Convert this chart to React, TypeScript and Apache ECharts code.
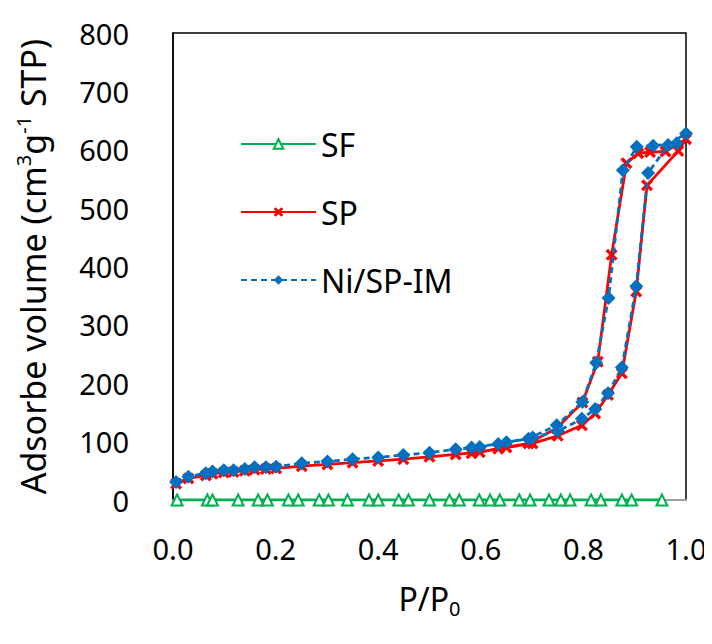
import React, { useEffect, useRef } from "react";
import * as echarts from "echarts";

// SF (green, triangles)
const sfP = [0.008, 0.067, 0.077, 0.127, 0.166, 0.184, 0.225, 0.244, 0.285, 0.303, 0.34, 0.382, 0.4, 0.44, 0.459, 0.5, 0.539, 0.558, 0.597, 0.618, 0.637, 0.675, 0.696, 0.733, 0.756, 0.774, 0.815, 0.834, 0.875, 0.894, 0.953];
const sfV = [0, 0, 0, 0, 0, 0, 0, 0, 0, 0, 0, 0, 0, 0, 0, 0, 0, 0, 0, 0, 0, 0, 0, 0, 0, 0, 0, 0, 0, 0, 0];

// SP (red, crosses): adsorption then desorption
const spP = [0.006, 0.03, 0.064, 0.077, 0.099, 0.118, 0.14, 0.159, 0.181, 0.201, 0.251, 0.301, 0.35, 0.4, 0.449, 0.5, 0.551, 0.598, 0.65, 0.701, 0.75, 0.797, 0.823, 0.848, 0.875, 0.903, 0.924, 0.985, 1.0,
  0.96, 0.93, 0.907, 0.884, 0.855, 0.828, 0.798, 0.748, 0.693, 0.634, 0.582];
const spV = [28, 37, 42, 45, 47, 48, 50, 52, 53, 54, 58, 61, 64, 67, 70, 74, 78, 82, 90, 97, 110, 128, 148, 180, 217, 357, 539, 598, 618,
  597, 596, 594, 577, 420, 237, 167, 123, 97, 88, 80];

// Ni/SP-IM (blue, diamonds): adsorption then desorption
const niP = [0.006, 0.03, 0.064, 0.077, 0.099, 0.118, 0.14, 0.159, 0.181, 0.201, 0.251, 0.301, 0.35, 0.4, 0.449, 0.5, 0.551, 0.598, 0.65, 0.701, 0.75, 0.797, 0.823, 0.848, 0.875, 0.903, 0.926, 0.965, 1.0,
  0.982, 0.936, 0.904, 0.877, 0.849, 0.825, 0.798, 0.748, 0.693, 0.634, 0.582];
const niV = [31, 40, 46, 49, 51, 51, 53, 56, 56, 57, 63, 66, 70, 73, 77, 81, 87, 91, 99, 107, 118, 139, 156, 183, 227, 366, 560, 608, 628,
  611, 607, 605, 565, 346, 235, 168, 128, 105, 96, 90];

const pairs = (p: number[], v: number[]) => p.map((x, i) => [x, v[i]]);

const crossPath = "path://M2,0 L5,3 L8,0 L10,2 L7,5 L10,8 L8,10 L5,7 L2,10 L0,8 L3,5 L0,2 Z";

export default function App() {
  const ref = useRef<HTMLDivElement>(null);
  useEffect(() => {
    if (!ref.current) return;
    const chart = echarts.init(ref.current, null, { renderer: "svg" });
    const font = "Noto Sans";
    chart.setOption({
      animation: false,
      backgroundColor: "#fff",
      textStyle: { fontFamily: font, color: "#000" },
      grid: {
        left: 165,
        right: 26,
        top: 25,
        bottom: 144,
        show: true,
        borderColor: "#000",
        borderWidth: 1.5,
        containLabel: false,
        outerBoundsMode: "none",
      },
      legend: {
        orient: "vertical",
        left: 227,
        top: 113,
        itemWidth: 75,
        itemHeight: 12,
        itemGap: 32,
        textStyle: { fontSize: 32, color: "#000", fontFamily: font, lineHeight: 36 },
        data: ["SF", "SP", "Ni/SP-IM"],
      },
      xAxis: {
        type: "value",
        min: 0,
        max: 1,
        interval: 0.2,
        name: "{p|P/P}{sub|0}",
        nameLocation: "middle",
        nameGap: 78,
        nameTextStyle: {
          color: "#000",
          fontFamily: font,
          rich: {
            p: { fontSize: 32, lineHeight: 40, verticalAlign: "middle", fontFamily: font, color: "#000" },
            sub: { fontSize: 20, verticalAlign: "bottom", lineHeight: 20, fontFamily: font, color: "#000" },
          },
        },
        axisLine: { show: true, lineStyle: { color: "#a0a0a0", width: 2 } },
        axisTick: { show: false },
        splitLine: { show: false },
        axisLabel: {
          fontSize: 29,
          color: "#000",
          margin: 34,
          formatter: (v: number) => v.toFixed(1),
        },
      },
      yAxis: {
        type: "value",
        min: 0,
        max: 800,
        interval: 100,
        name: "Adsorbe volume (cm{sup|3}g{sup|-1} STP)",
        nameLocation: "middle",
        nameGap: 120,
        nameRotate: 90,
        nameTextStyle: {
          fontSize: 34,
          color: "#000",
          fontFamily: font,
          lineHeight: 40,
          rich: { sup: { fontSize: 20, verticalAlign: "top", lineHeight: 22, fontFamily: font, color: "#000" } },
        },
        axisLine: { show: true, lineStyle: { color: "#000", width: 1.5 } },
        axisTick: { show: false },
        splitLine: { show: false },
        axisLabel: { fontSize: 29, color: "#000", margin: 44 },
      },
      series: [
        {
          name: "SF",
          type: "line",
          data: pairs(sfP, sfV),
          symbol: "triangle",
          symbolSize: 11,
          lineStyle: { color: "#00B050", width: 2.8 },
          itemStyle: { color: "#fff", borderColor: "#00B050", borderWidth: 2 },
          color: "#00B050",
          z: 3,
        },
        {
          name: "SP",
          type: "line",
          data: pairs(spP, spV),
          symbol: crossPath,
          symbolSize: 12,
          lineStyle: { color: "#FF0000", width: 2.8 },
          itemStyle: { color: "#FF0000" },
          color: "#FF0000",
          z: 4,
        },
        {
          name: "Ni/SP-IM",
          type: "line",
          data: pairs(niP, niV),
          symbol: "diamond",
          symbolSize: 14,
          lineStyle: { color: "#0070C0", width: 2.8, type: [6, 4] },
          itemStyle: { color: "#0070C0" },
          color: "#0070C0",
          z: 5,
        },
      ],
    });
    return () => chart.dispose();
  }, []);
  return <div ref={ref} style={{ width: 704, height: 636 }} />;
}
